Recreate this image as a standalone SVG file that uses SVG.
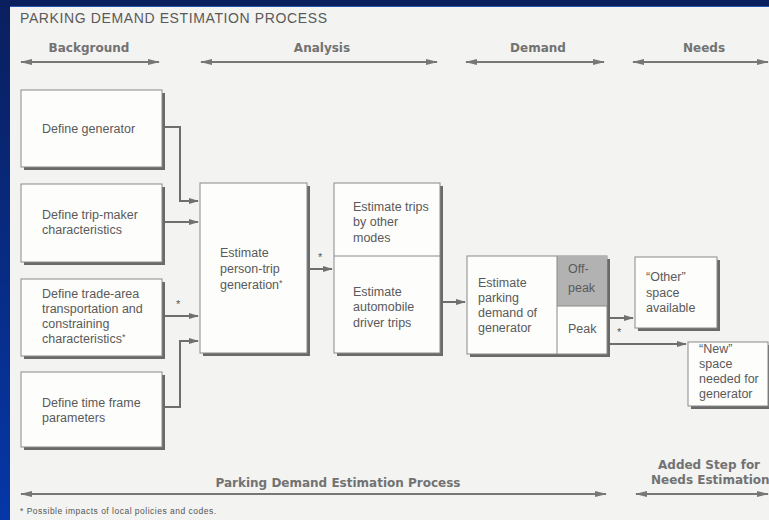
<svg xmlns="http://www.w3.org/2000/svg" width="769" height="520" viewBox="0 0 769 520">
<defs>
<linearGradient id="lb" x1="0" y1="0" x2="0" y2="1">
<stop offset="0" stop-color="#0a1f5e"/>
<stop offset="1" stop-color="#0637a8"/>
</linearGradient>
<marker id="ah" viewBox="0 0 10 6" refX="9" refY="3" markerWidth="10" markerHeight="6" markerUnits="userSpaceOnUse" orient="auto-start-reverse">
<path d="M0,0 L10,3 L0,6 z" fill="#707070"/>
</marker>
<marker id="ahs" viewBox="0 0 12 6" refX="11" refY="3" markerWidth="12" markerHeight="6" markerUnits="userSpaceOnUse" orient="auto-start-reverse">
<path d="M0,0 L12,3 L0,6 z" fill="#777"/>
</marker>
</defs>
<style>
.box{fill:#fdfdfc;stroke:#8a8a8a;stroke-width:1}
.sh{fill:#6a6a6a}
.t{font-family:"Liberation Sans",Arial,sans-serif;font-size:12.5px;fill:#5a5a5a}
.h{font-family:"DejaVu Sans",sans-serif;font-weight:bold;font-size:12px;fill:#727272}
.ttl{font-family:"Liberation Sans",Arial,sans-serif;font-size:14px;fill:#5a5a5a}
.c{fill:none;stroke:#6e6e6e;stroke-width:2}
.ba{fill:none;stroke:#777;stroke-width:2.2}
.div{stroke:#8a8a8a;stroke-width:1}
.ast{font-family:"Liberation Sans",Arial,sans-serif;font-size:11px;fill:#555}
</style>
<rect x="0" y="0" width="769" height="520" fill="#f3f3f1"/>
<rect x="0" y="0" width="10" height="520" fill="url(#lb)"/>
<rect x="0" y="0" width="769" height="7" fill="#0a1f5e"/>
<rect x="10" y="6" width="759" height="1" fill="#2a55b0"/>

<g id="title">
<text class="ttl" x="20" y="23" textLength="307">PARKING DEMAND ESTIMATION PROCESS</text>
</g>

<g id="phases">
<text class="h" x="89" y="52" text-anchor="middle">Background</text>
<text class="h" x="322" y="52" text-anchor="middle">Analysis</text>
<text class="h" x="538" y="52" text-anchor="middle">Demand</text>
<text class="h" x="704" y="52" text-anchor="middle">Needs</text>
<path class="ba" d="M21,62 H159" marker-start="url(#ahs)" marker-end="url(#ahs)"/>
<path class="ba" d="M201,62 H437" marker-start="url(#ahs)" marker-end="url(#ahs)"/>
<path class="ba" d="M466,62 H604" marker-start="url(#ahs)" marker-end="url(#ahs)"/>
<path class="ba" d="M633,62 H768" marker-start="url(#ahs)" marker-end="url(#ahs)"/>
</g>

<g id="define-generator">
<rect class="sh" x="24" y="93" width="141" height="77"/>
<rect class="box" x="21" y="90" width="141" height="77"/>
<text class="t" x="42" y="133">Define generator</text>
</g>
<g id="define-trip-maker">
<rect class="sh" x="24" y="187" width="141" height="78"/>
<rect class="box" x="21" y="184" width="141" height="78"/>
<text class="t" x="42" y="219">Define trip-maker</text>
<text class="t" x="42" y="234">characteristics</text>
</g>
<g id="define-trade-area">
<rect class="sh" x="24" y="282" width="141" height="77"/>
<rect class="box" x="21" y="279" width="141" height="77"/>
<text class="t" x="42" y="298">Define trade-area</text>
<text class="t" x="42" y="313">transportation and</text>
<text class="t" x="42" y="328">constraining</text>
<text class="t" x="42" y="343">characteristics<tspan dy="-3" font-size="9">*</tspan></text>
</g>
<g id="define-time-frame">
<rect class="sh" x="24" y="375" width="141" height="75"/>
<rect class="box" x="21" y="372" width="141" height="75"/>
<text class="t" x="42" y="407">Define time frame</text>
<text class="t" x="42" y="422">parameters</text>
</g>

<g id="person-trip">
<rect class="sh" x="203" y="186" width="107" height="170"/>
<rect class="box" x="200" y="183" width="107" height="170"/>
<text class="t" x="220" y="257">Estimate</text>
<text class="t" x="220" y="273">person-trip</text>
<text class="t" x="220" y="289">generation<tspan dy="-3" font-size="9">*</tspan></text>
</g>

<g id="mode-split">
<rect class="sh" x="337" y="186" width="106" height="170"/>
<rect class="box" x="334" y="183" width="106" height="170"/>
<line class="div" x1="334" y1="256" x2="440" y2="256"/>
<text class="t" x="353" y="211">Estimate trips</text>
<text class="t" x="353" y="226">by other</text>
<text class="t" x="353" y="242">modes</text>
<text class="t" x="353" y="296">Estimate</text>
<text class="t" x="353" y="311">automobile</text>
<text class="t" x="353" y="327">driver trips</text>
</g>

<g id="parking-demand">
<rect class="sh" x="470" y="259" width="140" height="98"/>
<rect class="box" x="467" y="256" width="140" height="98"/>
<rect x="557" y="256" width="50" height="50" fill="#b2b2b2"/>
<line class="div" x1="557" y1="256" x2="557" y2="354"/>
<line class="div" x1="557" y1="306" x2="607" y2="306"/>
<text class="t" x="478" y="287">Estimate</text>
<text class="t" x="478" y="302">parking</text>
<text class="t" x="478" y="317">demand of</text>
<text class="t" x="478" y="332">generator</text>
<text class="t" x="568" y="273">Off-</text>
<text class="t" x="568" y="292">peak</text>
<text class="t" x="568" y="333">Peak</text>
</g>

<g id="other-space">
<rect class="sh" x="638" y="260" width="82" height="71"/>
<rect class="box" x="635" y="257" width="82" height="71"/>
<text class="t" x="646" y="281">“Other”</text>
<text class="t" x="646" y="297">space</text>
<text class="t" x="646" y="312">available</text>
</g>

<g id="new-space">
<rect class="sh" x="691" y="345" width="80" height="64"/>
<rect class="box" x="688" y="342" width="80" height="64"/>
<text class="t" x="699" y="353">“New”</text>
<text class="t" x="699" y="368">space</text>
<text class="t" x="699" y="383">needed for</text>
<text class="t" x="699" y="398">generator</text>
</g>

<g id="connectors">
<path class="c" d="M165,127 H180 V201 H198" marker-end="url(#ah)"/>
<path class="c" d="M165,222 H198" marker-end="url(#ah)"/>
<path class="c" d="M165,316 H198" marker-end="url(#ah)"/>
<path class="c" d="M165,407 H180 V341 H198" marker-end="url(#ah)"/>
<path class="c" d="M310,269 H332" marker-end="url(#ah)"/>
<path class="c" d="M443,302 H465" marker-end="url(#ah)"/>
<path class="c" d="M610,318 H633" marker-end="url(#ah)"/>
<path class="c" d="M610,344 H686" marker-end="url(#ah)"/>
<text class="ast" x="176" y="308">*</text>
<text class="ast" x="318" y="261">*</text>
<text class="ast" x="617" y="336">*</text>
</g>

<g id="scope">
<text class="h" x="338" y="487" text-anchor="middle">Parking Demand Estimation Process</text>
<path class="ba" d="M21,494 H606" marker-start="url(#ahs)" marker-end="url(#ahs)"/>
<text class="h" x="658" y="469">Added Step for</text>
<text class="h" x="651" y="484">Needs Estimation</text>
<path class="ba" d="M636,494 H768" marker-start="url(#ahs)" marker-end="url(#ahs)"/>
</g>

<g id="footnote">
<text x="20" y="514" font-family="Liberation Sans, Arial, sans-serif" font-size="8.5" fill="#555" textLength="196">* Possible impacts of local policies and codes.</text>
</g>
</svg>
